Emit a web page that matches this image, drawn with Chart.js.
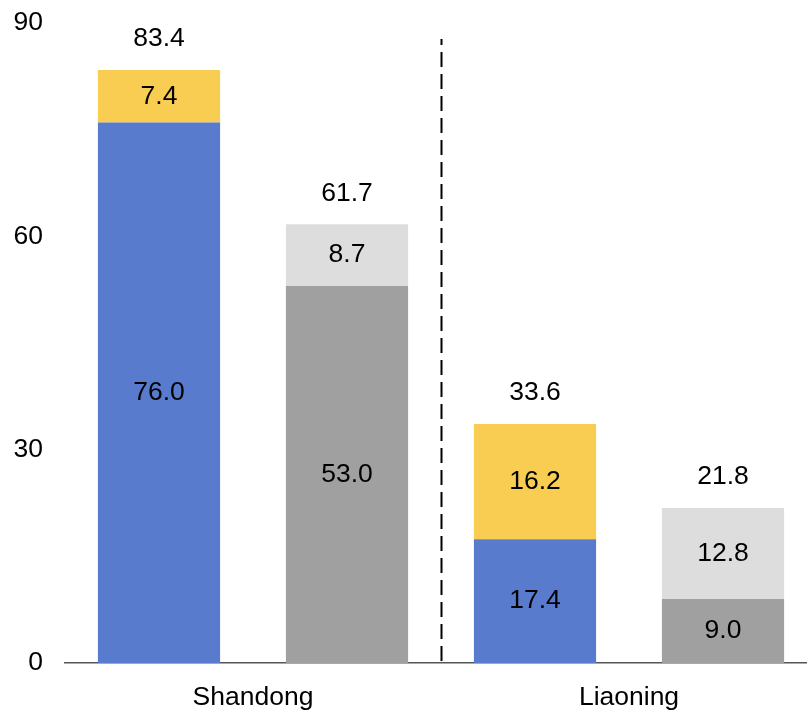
<!DOCTYPE html>
<html>
<head>
<meta charset="utf-8">
<script src="https://cdn.jsdelivr.net/npm/chart.js@4.4.1/dist/chart.umd.min.js"></script>
<style>
  html, body { margin: 0; padding: 0; background: #fff; overflow: hidden; }
  #frame { width: 807px; height: 715px; overflow: hidden; position: relative; }
  #plot { width: 817px; height: 715px; position: absolute; left: 0; top: 0; }
</style>
</head>
<body>
<div id="frame"><div id="plot"><canvas id="chart"></canvas></div></div>
<script>
// Provinces on the x axis
const regions = ['Shandong', 'Liaoning'];
// First stacked column of each province (blue base, yellow top)
const blueValues = [76.0, 17.4];
const yellowValues = [7.4, 16.2];
// Second stacked column of each province (grey base, light grey top)
const greyValues = [53.0, 9.0];
const lightGreyValues = [8.7, 12.8];
// Value axis ticks
const yTicks = [0, 30, 60, 90];

const FONT = "'Liberation Sans', Arial, Helvetica, sans-serif";
const FONT_SIZE = 26.5;

// Writes each segment's value in its middle and the column total above it
const valueLabels = {
  id: 'valueLabels',
  afterDatasetsDraw(chart) {
    const ctx = chart.ctx;
    ctx.save();
    ctx.font = FONT_SIZE + 'px ' + FONT;
    ctx.fillStyle = '#000';
    ctx.textAlign = 'center';
    ctx.textBaseline = 'middle';
    const tops = {};
    chart.data.datasets.forEach((ds, di) => {
      const meta = chart.getDatasetMeta(di);
      meta.data.forEach((bar, i) => {
        const v = ds.data[i];
        ctx.fillText(v.toFixed(1), bar.x, (bar.y + bar.base) / 2);
        const key = ds.stack + '_' + i;
        const prev = tops[key];
        tops[key] = { x: bar.x, y: prev ? Math.min(prev.y, bar.y) : bar.y, sum: (prev ? prev.sum : 0) + v };
      });
    });
    Object.values(tops).forEach(t => {
      ctx.fillText(t.sum.toFixed(1), t.x, t.y - 31);
    });
    ctx.restore();
  }
};

// Dashed divider between the two provinces
const divider = {
  id: 'divider',
  afterDatasetsDraw(chart) {
    const xs = chart.scales.x;
    const area = chart.chartArea;
    const x = Math.round((xs.getPixelForValue(0) + xs.getPixelForValue(1)) / 2) + 0.5;
    const ctx = chart.ctx;
    ctx.save();
    ctx.strokeStyle = '#000';
    ctx.lineWidth = 2;
    ctx.setLineDash([15, 7]);
    ctx.beginPath();
    ctx.moveTo(x, area.bottom - 2);
    ctx.lineTo(x, area.top + 16);
    ctx.stroke();
    ctx.restore();
  }
};

new Chart(document.getElementById('chart'), {
  type: 'bar',
  data: {
    labels: regions,
    datasets: [
      { data: blueValues, stack: 'first', backgroundColor: '#587BCD' },
      { data: yellowValues, stack: 'first', backgroundColor: '#F8CD52' },
      { data: greyValues, stack: 'second', backgroundColor: '#A0A0A0' },
      { data: lightGreyValues, stack: 'second', backgroundColor: '#DDDDDD' }
    ]
  },
  options: {
    responsive: true,
    maintainAspectRatio: false,
    animation: false,
    categoryPercentage: 1.0,
    barPercentage: 0.65,
    layout: { autoPadding: false, padding: { left: 14, top: 23, right: 0, bottom: 1 } },
    plugins: {
      legend: { display: false },
      tooltip: { enabled: false }
    },
    scales: {
      x: {
        stacked: true,
        grid: { display: false, drawTicks: false },
        border: { display: true, color: '#555555', width: 1.5 },
        ticks: { color: '#000', font: { family: FONT, size: FONT_SIZE }, padding: 19 },
        afterFit: axis => { axis.height = 51; axis.paddingLeft = 0; axis.paddingRight = 0; }
      },
      y: {
        stacked: true,
        min: 0,
        max: 90,
        afterBuildTicks: axis => { axis.ticks = yTicks.map(v => ({ value: v })); },
        grid: { display: false, drawTicks: false },
        border: { display: false },
        ticks: { color: '#000', font: { family: FONT, size: FONT_SIZE }, padding: 22 },
        afterFit: axis => { axis.width = 51; axis.paddingTop = 0; axis.paddingBottom = 0; }
      }
    }
  },
  plugins: [valueLabels, divider]
});
</script>
</body>
</html>
